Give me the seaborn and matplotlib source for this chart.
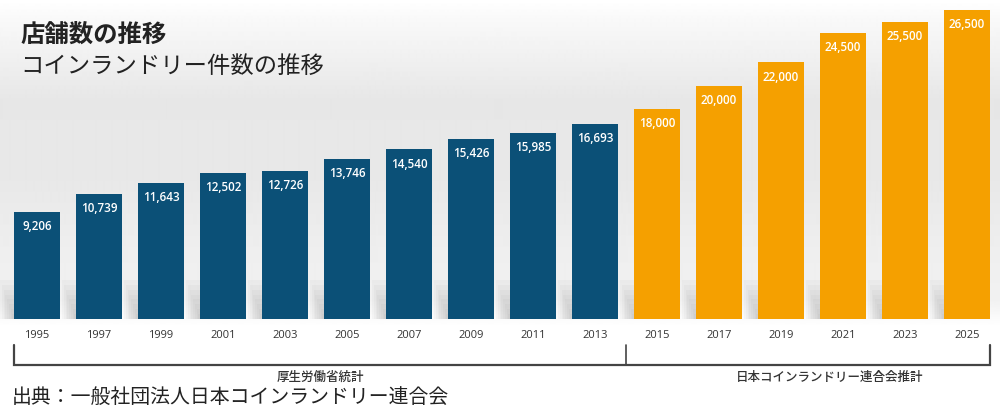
import numpy as np
import pandas as pd
import matplotlib
matplotlib.use("Agg")
import matplotlib.pyplot as plt
import matplotlib.transforms as mtransforms
import seaborn as sns

# --- data ---
years = ["1995", "1997", "1999", "2001", "2003", "2005", "2007", "2009",
         "2011", "2013", "2015", "2017", "2019", "2021", "2023", "2025"]
counts = [9206, 10739, 11643, 12502, 12726, 13746, 14540, 15426,
          15985, 16693, 18000, 20000, 22000, 24500, 25500, 26500]
sources = ["厚生労働省統計"] * 10 + ["日本コインランドリー連合会推計"] * 6

title = "店舗数の推移"
subtitle = "コインランドリー件数の推移"
credit = "出典：一般社団法人日本コインランドリー連合会"

palette = {"厚生労働省統計": "#0b5077", "日本コインランドリー連合会推計": "#f5a000"}
JP = ["Noto Sans CJK JP", "DejaVu Sans"]
NUM = ["Open Sans", "DejaVu Sans"]
BAR_W = 0.74

df = pd.DataFrame({"year": years, "count": counts, "source": sources})

sns.set_theme(style="white")
plt.rcParams["font.family"] = NUM

fig = plt.figure(figsize=(10, 4.13), dpi=100)

# background: soft vertical grey gradient behind the bars
bg = fig.add_axes([0, 0, 1, 1], zorder=-5)
rows = np.arange(413)
shade = np.interp(rows, [0, 20, 100, 180, 250, 300, 326, 413],
                  [1.0, 0.975, 0.905, 0.91, 0.935, 0.945, 1.0, 1.0])
bg.imshow(np.repeat(shade[:, None], 2, axis=1), cmap="gray", vmin=0, vmax=1,
          aspect="auto", extent=(0, 1, 0, 1), interpolation="bilinear")
bg.set_axis_off()

ax = fig.add_axes([0, 94 / 413, 1, 319 / 413])
ax.set_facecolor("none")

# faint blurred shadow at the foot of every bar
xs = np.arange(len(years))
for k in range(1, 9):
    ax.bar(xs - 0.028 * k, np.minimum(counts, 420 * k), width=BAR_W,
           color="#6f6f6f", alpha=0.045, zorder=0, linewidth=0)

sns.barplot(data=df, x="year", y="count", hue="source", palette=palette,
            dodge=False, width=BAR_W, saturation=1, legend=False, ax=ax,
            linewidth=0, zorder=2)

for i, v in enumerate(counts):
    ax.annotate(f"{v:,}", (i, v), xytext=(0, -10.5), textcoords="offset points",
                ha="center", va="center", color="white", fontsize=8.4,
                fontweight="semibold", zorder=3)

ax.set_xlim(-37 / 62, 963 / 62)
ax.set_ylim(0, 27360)
ax.set_axis_off()

# year labels under each bar
trans = mtransforms.blended_transform_factory(ax.transData, fig.transFigure)
for i, yr in enumerate(years):
    ax.text(i, 1 - 336 / 413, yr, transform=trans, ha="center", va="center",
            fontsize=8, color="#333333", fontweight="medium")

# bracket grouping the two sources
groups = list(dict.fromkeys(sources))
n_first = sources.count(groups[0])
x_left = -BAR_W / 2
x_mid = n_first - 0.5
x_right = len(years) - 1 + BAR_W / 2
y_line = 1 - 365 / 413
y_tick = 1 - 345 / 413
ax.plot([x_left, x_left, x_right, x_right], [y_tick, y_line, y_line, y_tick],
        transform=trans, color="#444444", lw=1.6, clip_on=False,
        solid_joinstyle="miter")
ax.plot([x_mid, x_mid], [y_tick, y_line], transform=trans, color="#444444",
        lw=1.2, clip_on=False)
ax.text((x_left + x_mid) / 2, 1 - 377 / 413, groups[0], transform=trans,
        ha="center", va="center", fontsize=9, family=JP, color="#333333",
        fontweight="medium")
ax.text((x_mid + x_right) / 2 + 0.35, 1 - 377 / 413, groups[1], transform=trans,
        ha="center", va="center", fontsize=9, family=JP, color="#333333",
        fontweight="medium")

# titles and source line
fig.text(20 / 1000, 1 - 35 / 413, title, ha="left", va="center", fontsize=17.6,
         fontweight="bold", family=JP, color="#222222")
fig.text(20 / 1000, 1 - 66 / 413, subtitle, ha="left", va="center",
         fontsize=16.8, family=JP, color="#222222")
fig.text(12 / 1000, 1 - 397 / 413, credit, ha="left", va="center",
         fontsize=14.3, family=JP, color="#222222")

fig.savefig("out.png", dpi=100)
